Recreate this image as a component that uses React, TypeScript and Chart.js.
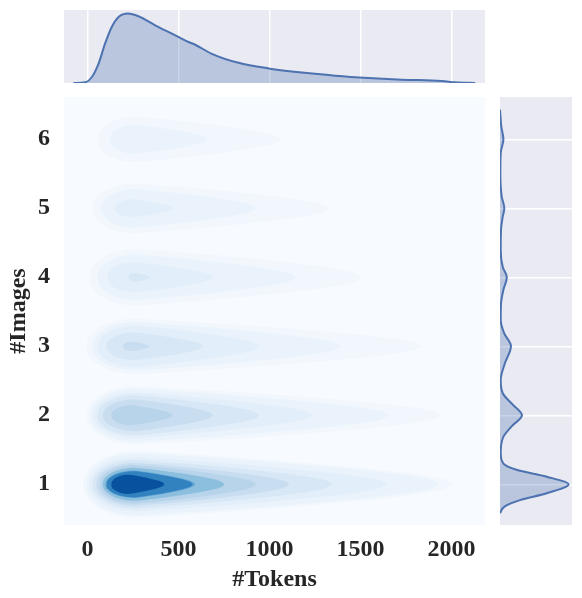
import React, { useEffect, useRef } from "react";
import { Chart, registerables } from "chart.js";

Chart.register(...registerables);

// ---------- data ----------
const tokenTicks = [0, 500, 1000, 1500, 2000];
const imageTicks = [1, 2, 3, 4, 5, 6];

// top marginal KDE (#Tokens), density relative to its peak
const tokenGrid = [-77, -13, 24, 61, 97, 134, 171, 222, 280, 372, 464, 555, 592, 683, 830, 995, 1178, 1361, 1544, 1727, 1947, 2020, 2130];
const tokenDensity = [0, 0.01, 0.086, 0.28, 0.57, 0.81, 0.95, 1.0, 0.96, 0.83, 0.71, 0.59, 0.55, 0.42, 0.29, 0.21, 0.15, 0.105, 0.072, 0.048, 0.029, 0.01, 0];

// right marginal KDE (#Images), density relative to its peak
const imageGrid = [0.58, 0.68, 0.77, 0.87, 1.0, 1.11, 1.21, 1.3, 1.45, 1.69, 1.84, 2.0, 2.15, 2.32, 2.51, 2.75, 3.0, 3.19, 3.38, 3.62, 3.82, 4.0, 4.15, 4.4, 4.69, 4.88, 5.0, 5.17, 5.5, 5.8, 6.0, 6.18, 6.43];
const imageDensity = [0, 0.07, 0.29, 0.68, 1.0, 0.68, 0.24, 0.05, 0.01, 0.05, 0.17, 0.32, 0.19, 0.04, 0.01, 0.07, 0.16, 0.06, 0.01, 0.015, 0.05, 0.1, 0.04, 0.01, 0.015, 0.04, 0.063, 0.025, 0.005, 0.01, 0.05, 0.02, 0];

// joint KDE contours per image count: [level, left token, right token, half height in images]
const contours1Image = [[1, -25, 2016, 0.48], [2, -7, 1934, 0.45], [3, 11, 1648, 0.39], [4, 29, 1346, 0.35], [5, 48, 1110, 0.31], [6, 66, 927, 0.28], [7, 83, 753, 0.24], [8, 98, 592, 0.2], [9, 103, 579, 0.19], [10, 130, 423, 0.14]];
const contours2Images = [[1, -5, 1951, 0.42], [2, 15, 1659, 0.38], [3, 35, 1237, 0.33], [4, 55, 945, 0.29], [5, 84, 689, 0.23], [6, 130, 469, 0.145]];
const contours3Images = [[1, -7, 1841, 0.4], [2, 27, 1394, 0.35], [3, 55, 945, 0.3], [4, 103, 634, 0.2], [5, 194, 341, 0.07]];
const contours4Images = [[1, 11, 1511, 0.41], [2, 55, 1147, 0.33], [3, 108, 689, 0.22], [4, 225, 346, 0.063]];
const contours5Images = [[1, 29, 1330, 0.36], [2, 75, 927, 0.28], [3, 148, 469, 0.13]];
const contours6Images = [[1, 55, 1064, 0.33], [2, 121, 660, 0.21]];
const contoursByImages = [contours1Image, contours2Images, contours3Images, contours4Images, contours5Images, contours6Images];

// ---------- styles ----------
const levelPalette = [
  "#f7fbff",
  "rgb(241,247,253)",
  "rgb(234,243,251)",
  "rgb(226,238,249)",
  "rgb(215,231,245)",
  "rgb(200,221,240)",
  "rgb(183,212,234)",
  "rgb(140,190,222)",
  "rgb(100,168,212)",
  "rgb(50,130,192)",
  "rgb(8,81,158)",
];
const TEXT = "#262626";
const FONT = { family: "'Liberation Serif', 'Times New Roman', serif", size: 24, weight: "bold" as const };
const LINE = "#4c72b0";
const FILL = "rgba(76,114,176,0.3)";
const MARGIN_BG = "#eaeaf2";

const X_MIN = -129;
const X_MAX = 2184;
const Y_MIN = 0.41;
const Y_MAX = 6.613;

const panelBg = {
  id: "panelBg",
  beforeDraw(chart: any) {
    const { ctx, chartArea: a } = chart;
    ctx.save();
    ctx.fillStyle = levelPalette[0];
    ctx.fillRect(a.left, a.top, a.right - a.left, a.bottom - a.top);
    ctx.restore();
  },
};

function contourEdges(center: number, left: number, right: number, half: number) {
  const peak = Math.min(left + 0.33 * (right - left), 260);
  const xs: number[] = [];
  const hs: number[] = [];
  const nL = 14;
  const nR = 36;
  for (let i = 0; i <= nL; i++) {
    const th = Math.PI - (i / nL) * (Math.PI / 2);
    xs.push(peak + (peak - left) * Math.cos(th));
    hs.push(half * Math.sin(th));
  }
  for (let i = 1; i <= nR; i++) {
    const t = i / nR;
    xs.push(peak + t * (right - peak));
    hs.push(half * Math.sqrt(Math.max(0, 1 - Math.pow(t, 1.3))) * (1 - 0.25 * t));
  }
  return {
    upper: xs.map((x, i) => ({ x, y: center + hs[i] })),
    lower: xs.map((x, i) => ({ x, y: center - hs[i] })),
  };
}

function buildContourDatasets() {
  const ds: any[] = [];
  contoursByImages.forEach((rows, r) => {
    const center = imageTicks[r];
    rows.forEach(([level, left, right, half]) => {
      const { upper, lower } = contourEdges(center, left, right, half);
      ds.push({
        data: upper,
        fill: "+1",
        backgroundColor: levelPalette[level],
        borderColor: "rgba(0,0,0,0)",
        borderWidth: 0,
        pointRadius: 0,
        tension: 0,
        order: -level,
      });
      ds.push({
        data: lower,
        fill: false,
        backgroundColor: "rgba(0,0,0,0)",
        borderColor: "rgba(0,0,0,0)",
        borderWidth: 0,
        pointRadius: 0,
        tension: 0,
        order: -level,
      });
    });
  });
  return ds;
}

function useChart(ref: React.RefObject<HTMLCanvasElement | null>, make: (c: HTMLCanvasElement) => Chart) {
  useEffect(() => {
    if (!ref.current) return;
    const ch = make(ref.current);
    return () => ch.destroy();
  }, []);
}

export default function App() {
  const mainRef = useRef<HTMLCanvasElement>(null);
  const topRef = useRef<HTMLCanvasElement>(null);
  const rightRef = useRef<HTMLCanvasElement>(null);

  useChart(mainRef, (c) =>
    new Chart(c, {
      type: "line",
      data: { datasets: buildContourDatasets() },
      plugins: [panelBg],
      options: {
        animation: false,
        responsive: false,
        events: [],
        layout: { padding: { top: 7, right: 5, left: 0, bottom: 0 } },
        plugins: { legend: { display: false }, tooltip: { enabled: false } },
        scales: {
          x: {
            type: "linear",
            min: X_MIN,
            max: X_MAX,
            grid: { display: false, drawTicks: false },
            border: { display: false },
            afterBuildTicks: (s: any) => {
              s.ticks = tokenTicks.map((v) => ({ value: v }));
            },
            ticks: { padding: 10, color: TEXT, font: FONT, maxRotation: 0, autoSkip: false, callback: (v: any) => String(v) },
            title: { display: true, text: "#Tokens", color: TEXT, font: FONT, padding: { top: 0, bottom: 4 } },
            afterFit: (s: any) => {
              s.height = 73;
              s.paddingLeft = 0;
              s.paddingRight = 0;
            },
          },
          y: {
            type: "linear",
            min: Y_MIN,
            max: Y_MAX,
            grid: { display: false, drawTicks: false },
            border: { display: false },
            afterBuildTicks: (s: any) => {
              s.ticks = imageTicks.map((v) => ({ value: v }));
            },
            ticks: { padding: 14, color: TEXT, font: FONT, autoSkip: false, callback: (v: any) => String(v) },
            title: { display: true, text: "#Images", color: TEXT, font: FONT, padding: { top: 4, bottom: 0 } },
            afterFit: (s: any) => {
              s.width = 64;
              s.paddingTop = 0;
              s.paddingBottom = 0;
            },
          },
        },
      },
    } as any)
  );

  useChart(topRef, (c) =>
    new Chart(c, {
      type: "line",
      data: {
        datasets: [
          {
            data: tokenGrid.map((x, i) => ({ x, y: tokenDensity[i] })),
            borderColor: LINE,
            borderWidth: 2,
            backgroundColor: FILL,
            fill: "origin",
            pointRadius: 0,
            cubicInterpolationMode: "monotone",
          },
        ],
      },
      options: {
        animation: false,
        responsive: false,
        events: [],
        layout: { padding: 0 },
        plugins: { legend: { display: false }, tooltip: { enabled: false } },
        scales: {
          x: {
            type: "linear",
            min: X_MIN,
            max: X_MAX,
            grid: { color: "#ffffff", lineWidth: 1.5, drawTicks: false },
            border: { display: false },
            afterBuildTicks: (s: any) => {
              s.ticks = tokenTicks.map((v) => ({ value: v }));
            },
            ticks: { display: false },
            afterFit: (s: any) => {
              s.height = 0;
              s.paddingLeft = 0;
              s.paddingRight = 0;
            },
          },
          y: { display: false, min: 0, max: 1.05 },
        },
      },
    } as any)
  );

  useChart(rightRef, (c) =>
    new Chart(c, {
      type: "line",
      data: {
        datasets: [
          {
            data: imageGrid.map((y, i) => ({ x: imageDensity[i], y })),
            borderColor: LINE,
            borderWidth: 2,
            backgroundColor: FILL,
            fill: "origin",
            pointRadius: 0,
            cubicInterpolationMode: "monotone",
          },
        ],
      },
      options: {
        indexAxis: "y",
        animation: false,
        responsive: false,
        events: [],
        layout: { padding: 0 },
        plugins: { legend: { display: false }, tooltip: { enabled: false } },
        scales: {
          x: { type: "linear", display: false, min: 0, max: 1.05 },
          y: {
            type: "linear",
            min: Y_MIN,
            max: Y_MAX,
            grid: { color: "#ffffff", lineWidth: 1.5, drawTicks: false },
            border: { display: false },
            afterBuildTicks: (s: any) => {
              s.ticks = imageTicks.map((v) => ({ value: v }));
            },
            ticks: { display: false },
            afterFit: (s: any) => {
              s.width = 0;
              s.paddingTop = 0;
              s.paddingBottom = 0;
            },
          },
        },
      },
    } as any)
  );

  return (
    <div style={{ position: "absolute", left: 0, top: 0, width: 582, height: 598, background: "#ffffff" }}>
      <canvas ref={topRef} width={421} height={73} style={{ position: "absolute", left: 64, top: 10, width: 421, height: 73, background: MARGIN_BG }} />
      <canvas ref={mainRef} width={490} height={508} style={{ position: "absolute", left: 0, top: 90, width: 490, height: 508 }} />
      <canvas ref={rightRef} width={72} height={428} style={{ position: "absolute", left: 500, top: 97, width: 72, height: 428, background: MARGIN_BG }} />
    </div>
  );
}
